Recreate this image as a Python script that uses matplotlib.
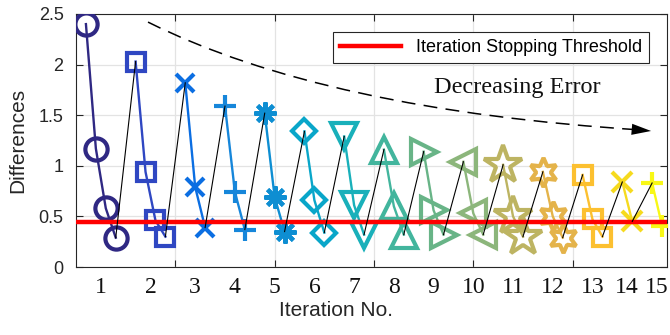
import matplotlib
matplotlib.use("Agg")
import matplotlib.pyplot as plt
from matplotlib.path import Path
from matplotlib.patches import PathPatch, FancyArrowPatch
import numpy as np

plt.rcParams['lines.scale_dashes'] = False

# ---- data ----
iterations = [str(i) for i in range(1, 16)]
iter_x = [[1, 2, 3, 4], [6, 7, 8, 9], [11, 12, 13], [15, 16, 17], [19, 20, 21],
          [23, 24, 25], [27, 28, 29], [31, 32, 33], [35, 36, 37], [39, 40, 41],
          [43, 44, 45], [47, 48, 49], [51, 52, 53], [55, 56], [58, 59]]
iter_y = [[2.40, 1.17, 0.58, 0.29], [2.03, 0.94, 0.46, 0.30], [1.82, 0.79, 0.39],
          [1.59, 0.74, 0.37], [1.52, 0.69, 0.35], [1.34, 0.66, 0.34],
          [1.29, 0.61, 0.32], [1.16, 0.60, 0.32], [1.14, 0.56, 0.32],
          [1.04, 0.53, 0.32], [1.01, 0.50, 0.30], [0.94, 0.50, 0.29],
          [0.91, 0.47, 0.30], [0.84, 0.45], [0.83, 0.41]]
threshold = 0.44
yticks = [0, 0.5, 1, 1.5, 2, 2.5]
ytick_labels = ['0', '0.5', '1', '1.5', '2', '2.5']
xgrid = [10, 20, 30, 40, 50]

# ---- styles ----
colors = ['#2f2883', '#2f47c2', '#0b6ee2', '#1686da', '#0e8ed2', '#09a6c9',
          '#19b0ba', '#42b59d', '#68b487', '#8cb67b', '#bdb462', '#e4b34a',
          '#fcc030', '#f6da1e', '#f8f816']
markers = ['o', 's', 'x', '+', (8, 2, 0), 'D', 'v', '^', '>', '<', '*',
           (6, 1, 0), 's', 'x', '+']
msizes = [16, 13, 13, 16, 16, 12.5, 19, 19, 19, 19, 29, 21, 13, 14, 16]

fig = plt.figure(figsize=(6.7, 3.35), dpi=100)
ax = fig.add_axes([76 / 670, 1 - 267 / 335, (667 - 76) / 670, (267 - 14) / 335])

for xs, ys, c, m, ms in zip(iter_x, iter_y, colors, markers, msizes):
    ax.plot(xs, ys, color=c, lw=1.7, marker=m, ms=ms, mfc='none', mec=c,
            mew=3.0, zorder=3)

ax.axhline(threshold, color='#ff0000', lw=3.2, zorder=4,
           label='Iteration Stopping Threshold')

# black connectors: last point of each iteration -> first point of next
for k in range(len(iter_x) - 1):
    ax.plot([iter_x[k][-1], iter_x[k + 1][0]], [iter_y[k][-1], iter_y[k + 1][0]],
            color='k', lw=0.8, zorder=5)

ax.set_xlim(0, 59.5)
ax.set_ylim(0, 2.5)
ax.set_xticks(xgrid)
ax.set_xticklabels([])
ax.set_yticks(yticks)
ax.set_yticklabels(ytick_labels, family='Liberation Sans', fontsize=13)
ax.tick_params(direction='in', length=5, width=0.8, color='#262626',
               top=True, right=True, pad=9, labelcolor='#262626')
ax.grid(True, color='#e3e3e3', lw=0.9, zorder=0)
ax.set_axisbelow(True)
for s in ax.spines.values():
    s.set_color('#262626')
    s.set_linewidth(0.8)

# iteration number labels at group centres
trans = ax.get_xaxis_transform()
for lab, xs in zip(iterations, iter_x):
    ax.text(np.mean(xs), -0.083, lab, transform=trans, ha='center', va='center',
            family='Liberation Serif', fontsize=17, color='#111111')

fig.text(336 / 670, 1 - 311 / 335, 'Iteration No.', ha='center', va='center',
         family='Liberation Sans', fontsize=15, color='#262626')
fig.text(17.5 / 670, 1 - 140 / 335, 'Differences', ha='center', va='center',
         rotation=90, family='Liberation Sans', fontsize=15, color='#262626')

# decreasing error dashed arrow
P0, C, P2 = (7.25, 2.42), (25, 1.55), (57.2, 1.352)
path = Path([P0, C, P2], [Path.MOVETO, Path.CURVE3, Path.CURVE3])
ax.add_patch(PathPatch(path, fc='none', ec='k', lw=1.1, ls=(0, (10, 6)), zorder=6))
ax.add_patch(FancyArrowPatch((56.0, 1.36), (57.9, 1.344),
                             arrowstyle='-|>,head_length=14,head_width=4',
                             mutation_scale=1, color='k', lw=0, shrinkA=0,
                             shrinkB=0, zorder=6))
ax.text(44.4, 1.77, 'Decreasing Error', ha='center', va='center',
        family='Liberation Serif', fontsize=17.5, color='#111111')

leg = ax.legend(loc='upper right', bbox_to_anchor=(0.9695, 0.929),
                borderaxespad=0, fancybox=False, framealpha=1,
                prop={'family': 'Liberation Sans', 'size': 13},
                handlelength=3.4, edgecolor='#262626')
leg.get_frame().set_linewidth(0.8)

fig.savefig('out.png', dpi=100)
